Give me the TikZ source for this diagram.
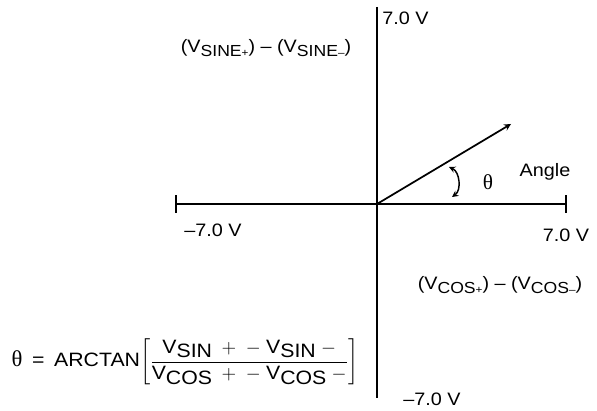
\documentclass[tikz,border=0pt]{standalone}
\usepackage{amsmath}
\usepackage{fontspec}
\setmainfont[FakeStretch=1.1]{Liberation Sans}
\newfontfamily\thetafont{Liberation Serif}
\usepackage{tikz}
\usetikzlibrary{arrows, positioning}
\newcommand{\lowtext}[1]{\raisebox{-0.4ex}{#1}}
\newcommand{\lowsmall}[1]{\raisebox{-0.5ex}{\fontsize{12}{13}\selectfont #1}}

\begin{document}
\begin{tikzpicture}[x=0.75pt, y=0.75pt, >=stealth, font=\fontsize{13.5}{15}\selectfont]
    \tikzstyle{lbl} = [inner sep=0pt, text centered]
    \tikzstyle{axis} = [line width=1.5pt]
    \useasboundingbox (0,0) rectangle (597,411);

    % axes
    \coordinate (orig) at (377,207);
    \coordinate (ytop) at (377,404);
    \coordinate (ybot) at (377,13);
    \coordinate (xleft) at (176,207);
    \coordinate (xright) at (566,207);
    \draw [axis] (ytop) -- (ybot);
    \draw [line width=1pt] (xleft) -- (xright);
    \draw [line width=1.3pt] ([yshift=-6.5]xleft) -- ([yshift=6.5]xleft);
    \draw [line width=1.3pt] ([yshift=-6.5]xright) -- ([yshift=6.5]xright);

    % vector and angle
    \coordinate (tip) at (511,287);
    \coordinate (arcA) at (449,244);
    \coordinate (arcB) at (452,214);
    \draw [line width=1.3pt, ->] (orig) -- (tip);
    \draw [line width=1.1pt, <->] (arcA) to[bend left=60] (arcB);

    % labels
    \node (vtop) [lbl, anchor=west] at (382,393) {7.0 V};
    \node (vbot) [lbl] at (432,12) {\char"2013 7.0 V};
    \node (vleft) [lbl] at (213,181) {\char"2013 7.0 V};
    \node (vright) [lbl] at (566,176) {7.0 V};
    \node (sine) [lbl] at (266,363) {(V\lowsmall{SINE\footnotesize+}) \char"2013{} (V\lowsmall{SINE\footnotesize\char"2013})};
    \node (cosine) [lbl] at (500,126) {(V\lowsmall{COS\footnotesize+}) \char"2013{} (V\lowsmall{COS\footnotesize\char"2013})};
    \node (theta) [lbl, font=\fontsize{16}{17}\selectfont] at (488,229) {\thetafont θ};
    \node (angle) [lbl] at (545,239) {Angle};
    \node (formula) [lbl, font=\fontsize{14.5}{16}\selectfont] at (185,49) {{\fontsize{17}{18}\selectfont\thetafont θ}\enspace=\enspace ARCTAN$\left[\dfrac{\text{V\lowtext{SIN}}\;+\;-\;\text{V\lowtext{SIN}}\;-}{\text{V\lowtext{COS}}\;+\;-\;\text{V\lowtext{COS}}\;-}\right]$};
\end{tikzpicture}
\end{document}
